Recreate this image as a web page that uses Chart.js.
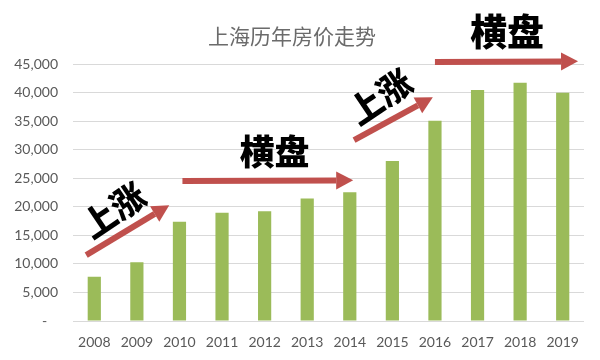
<!DOCTYPE html>
<html>
<head>
<meta charset="utf-8">
<script src="https://cdn.jsdelivr.net/npm/chart.js@4"></script>
<style>
  html, body { margin: 0; padding: 0; background: #fff; }
  #wrap { width: 600px; height: 360px; }
</style>
</head>
<body>
<div id="wrap"><canvas id="barChart"></canvas></div>
<script>
var years = ['2008', '2009', '2010', '2011', '2012', '2013', '2014', '2015', '2016', '2017', '2018', '2019'];
var prices = [7750, 10300, 17400, 18950, 19250, 21450, 22550, 28050, 35100, 40500, 41750, 40000];
var yMax = 45000;
var yStep = 5000;

// annotations in data coordinates (category index, value)
var arrows = [
  [-0.19, 11550, 1.76, 20300],
  [2.07, 24550, 6.08, 24650],
  [6.10, 31700, 7.95, 39200],
  [8.00, 45400, 11.36, 45500]
];
var notes = [
  ['上涨', 0.45, 19400, -34, 34],
  ['横盘', 4.23, 29600, 0, 35],
  ['上涨', 6.71, 39300, -34, 34],
  ['横盘', 9.69, 50700, 0, 37]
];

var annotate = {
  id: 'annotate',
  afterDraw: function(chart) {
    var ctx = chart.ctx;
    var xs = chart.scales.x, ys = chart.scales.y;
    ctx.save();
    arrows.forEach(function(a) {
      var x0 = xs.getPixelForValue(a[0]), y0 = ys.getPixelForValue(a[1]);
      var x1 = xs.getPixelForValue(a[2]), y1 = ys.getPixelForValue(a[3]);
      var ang = Math.atan2(y1 - y0, x1 - x0);
      var hl = 17, hw = 9;
      var bx = x1 - hl * Math.cos(ang), by = y1 - hl * Math.sin(ang);
      ctx.strokeStyle = '#c0504d';
      ctx.fillStyle = '#c0504d';
      ctx.lineWidth = 6;
      ctx.beginPath();
      ctx.moveTo(x0, y0);
      ctx.lineTo(bx, by);
      ctx.stroke();
      ctx.beginPath();
      ctx.moveTo(x1, y1);
      ctx.lineTo(bx + hw * Math.sin(ang), by - hw * Math.cos(ang));
      ctx.lineTo(bx - hw * Math.sin(ang), by + hw * Math.cos(ang));
      ctx.closePath();
      ctx.fill();
    });
    notes.forEach(function(n) {
      var x = xs.getPixelForValue(n[1]), y = ys.getPixelForValue(n[2]);
      ctx.save();
      ctx.translate(x, y);
      ctx.rotate(n[3] * Math.PI / 180);
      ctx.font = '900 ' + n[4] + 'px "Noto Sans CJK SC"';
      ctx.fillStyle = '#000';
      ctx.textAlign = 'center';
      ctx.textBaseline = 'middle';
      ctx.fillText(n[0], 0, 0);
      ctx.restore();
    });
    ctx.restore();
  }
};

Chart.defaults.font.family = 'Lato, "Noto Sans", sans-serif';
Chart.defaults.color = '#595959';

var barCanvas = document.getElementById('barChart').getContext('2d');

new Chart(barCanvas, {
  type: 'bar',
  data: {
    labels: years,
    datasets: [{
      data: prices,
      backgroundColor: '#9bbb59',
      barPercentage: 0.31,
      categoryPercentage: 1
    }]
  },
  options: {
    responsive: true,
    maintainAspectRatio: false,
    animation: false,
    layout: { padding: { left: 0, right: 16, top: 0, bottom: 0 } },
    plugins: {
      legend: { display: false },
      tooltip: { enabled: false },
      title: {
        display: true,
        text: '上海历年房价走势',
        color: '#6b6b6b',
        font: { family: '"Noto Sans CJK SC"', size: 21, weight: 'normal' },
        padding: { top: 23, bottom: 16 }
      }
    },
    scales: {
      x: {
        grid: { display: false },
        border: { display: false },
        ticks: { padding: 5, font: { size: 14 } },
        afterFit: function(scale) { scale.height = 39; }
      },
      y: {
        min: 0,
        max: yMax,
        grid: { color: '#d9d9d9', drawTicks: false },
        border: { display: false },
        ticks: {
          stepSize: yStep,
          padding: 15,
          font: { size: 14 },
          callback: function(v) { return v === 0 ? '-   ' : v.toLocaleString('en-US'); }
        },
        afterFit: function(scale) { scale.width = 73; }
      }
    }
  },
  plugins: [annotate]
});
</script>
</body>
</html>
